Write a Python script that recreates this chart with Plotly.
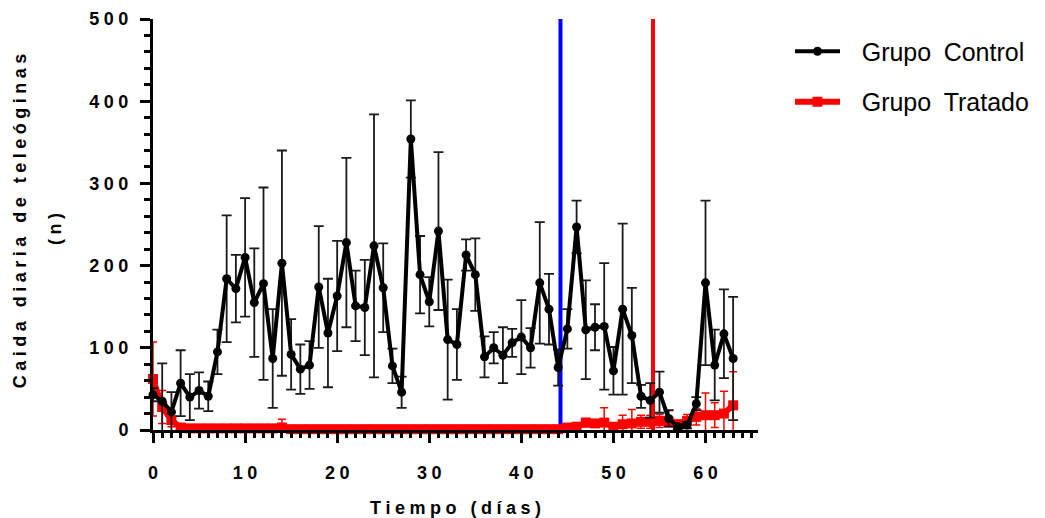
import plotly.graph_objects as go

# datos
dias = list(range(64))

control_media = [43, 35, 22, 57, 40, 48, 41, 95, 184, 172,
                 210, 155, 178, 87, 203, 92, 74, 79, 174, 118,
                 163, 228, 151, 149, 224, 173, 78, 46, 354, 189,
                 156, 242, 110, 104, 213, 189, 89, 100, 91, 106,
                 113, 100, 179, 147, 76, 123, 247, 122, 125, 126,
                 72, 147, 115, 41, 36, 46, 14, 4, 6, 32,
                 179, 79, 117, 87]
control_error = [8, 46, 24, 40, 28, 22, 18, 27, 77, 41,
                 72, 66, 117, 60, 137, 43, 30, 29, 74, 66,
                 67, 103, 43, 58, 160, 54, 21, 19, 47, 47,
                 30, 96, 73, 43, 19, 44, 25, 19, 34, 17,
                 45, 24, 74, 43, 22, 24, 32, 60, 28, 77,
                 29, 104, 58, 14, 21, 25, 10, 3, 4, 8,
                 100, 43, 54, 75]

tratado_media = [62, 28, 12, 3, 2, 2, 2, 2, 2, 2,
                 2, 2, 2, 2, 3, 1, 1, 1, 1, 1,
                 1, 1, 1, 1, 1, 1, 1, 1, 1, 1,
                 1, 1, 1, 1, 1, 1, 1, 1, 1, 1,
                 1, 1, 1, 1, 1, 3, 4, 9, 8, 9,
                 4, 7, 8, 10, 10, 11, 10, 7, 11, 16,
                 18, 18, 20, 30]
tratado_error = [45, 20, 8, 1, 1, 1, 1, 1, 1, 1,
                 1, 1, 1, 1, 10, 1, 1, 1, 1, 1,
                 1, 1, 1, 1, 1, 1, 1, 1, 1, 1,
                 1, 1, 1, 1, 1, 1, 1, 1, 1, 1,
                 1, 1, 1, 1, 1, 2, 3, 5, 4, 18,
                 3, 11, 17, 8, 8, 8, 6, 5, 8, 10,
                 27, 15, 27, 41]

linea_azul = 44.25
linea_roja = 54.3

x_ticks = [0, 10, 20, 30, 40, 50, 60]
y_ticks = [0, 100, 200, 300, 400, 500]

FAM = "Liberation Sans, Arial"


def spaced(s, sp="\u2005"):
    return sp.join(s)


fig = go.Figure()

fig.add_trace(go.Scatter(
    x=dias, y=tratado_media, name="\u2002\u2006Grupo\u2002Tratado",
    mode="lines+markers", cliponaxis=False,
    line=dict(color="#ff0000", width=6),
    marker=dict(symbol="square", size=10, color="#ff0000"),
    error_y=dict(type="data", array=tratado_error, color="#ff0000",
                 thickness=1.5, width=4),
    legendgroup="b", legendrank=2,
))
fig.add_trace(go.Scatter(
    x=dias, y=control_media, name="\u2002\u2006Grupo\u2002Control",
    mode="lines+markers", cliponaxis=False,
    line=dict(color="black", width=4),
    marker=dict(symbol="circle", size=9, color="black"),
    error_y=dict(type="data", array=control_error, color="#1a1a1a",
                 thickness=1.8, width=5),
    legendgroup="a", legendrank=1,
))

# lineas verticales
fig.add_shape(type="line", x0=linea_azul, x1=linea_azul, y0=0, y1=500,
              line=dict(color="#0000ff", width=4), layer="below")
fig.add_shape(type="line", x0=linea_roja, x1=linea_roja, y0=0, y1=500,
              line=dict(color="#ff0000", width=4), layer="below")

font_b = dict(family=FAM, size=18, color="black", weight="bold")

# titulo del eje y en dos lineas
fig.add_annotation(text=spaced("Caida diaria de teleóginas"), textangle=-90,
                   xref="paper", yref="paper", x=-0.22, y=0.51,
                   xanchor="center", yanchor="middle", showarrow=False, font=font_b)
fig.add_annotation(text=spaced("(n)"), textangle=-90,
                   xref="paper", yref="paper", x=-0.163, y=0.49,
                   xanchor="center", yanchor="middle", showarrow=False, font=font_b)

fig.update_layout(
    width=1045, height=518,
    margin=dict(l=153, r=287, t=19, b=88),
    plot_bgcolor="white", paper_bgcolor="white",
    font=dict(family=FAM, color="black"),
    legend=dict(xref="container", yref="container", x=0.756, y=0.945,
                xanchor="left", yanchor="top",
                font=dict(size=25, family=FAM, color="black"),
                traceorder="grouped", tracegroupgap=15,
                itemwidth=45, bgcolor="rgba(0,0,0,0)"),
    xaxis=dict(
        range=[0, 65.7], showgrid=False, zeroline=False, automargin=False,
        showline=True, linecolor="black", linewidth=3,
        ticks="outside", ticklen=10, tickwidth=3, tickcolor="black",
        tickvals=x_ticks, ticktext=[spaced(str(v)) for v in x_ticks],
        tickfont=font_b, ticklabelstandoff=14,
        minor=dict(dtick=1, ticks="outside", ticklen=5, tickwidth=3,
                   tickcolor="black", showgrid=False),
        title=dict(text=spaced("Tiempo (días)"), standoff=20, font=font_b),
    ),
    yaxis=dict(
        range=[0, 500], showgrid=False, zeroline=False, automargin=False,
        showline=True, linecolor="black", linewidth=3,
        ticks="outside", ticklen=10, tickwidth=3, tickcolor="black",
        tickvals=y_ticks, ticktext=[spaced(str(v)) for v in y_ticks],
        tickfont=font_b, ticklabelstandoff=8,
        minor=dict(dtick=20, ticks="outside", ticklen=6, tickwidth=3,
                   tickcolor="black", showgrid=False),
    ),
)

# sin margen de página, para que la figura ocupe la ventana
fig.write_html("out.html", config={"displayModeBar": False},
               post_script="document.body.style.margin='0px';")
